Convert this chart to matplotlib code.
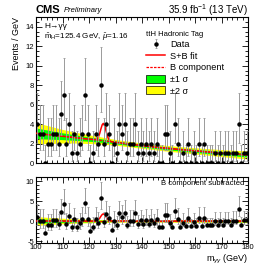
import numpy as np
import matplotlib
matplotlib.use("Agg")
import matplotlib.pyplot as plt
from matplotlib.patches import Patch
from matplotlib.lines import Line2D
from matplotlib.ticker import MultipleLocator

plt.rcParams['font.family'] = ['Liberation Sans', 'DejaVu Sans']
plt.rcParams['mathtext.fontset'] = 'custom'
plt.rcParams['mathtext.rm'] = 'Liberation Sans'
plt.rcParams['mathtext.it'] = 'Liberation Sans:italic'

# === Données ===
# comptages par bin de 1 GeV (100 -> 179)
bins_lo = list(range(100, 180))
counts = [4, 3, 3, 0, 2, 2, 3, 3, 2, 5,
          7, 2, 4, 1, 3, 1, 2, 3, 7, 3,
          0, 1, 3, 2, 8, 2, 4, 3, 0, 2,
          1, 4, 3, 4, 1, 2, 2, 4, 1, 2,
          1, 2, 1, 2, 1, 2, 0, 0, 3, 3,
          1, 0, 4, 2, 0, 1, 0, 2, 0, 1,
          0, 2, 0, 2, 0, 0, 0, 1, 0, 1,
          0, 1, 1, 0, 1, 1, 4, 0, 1, 1]
# données moins composante B (panneau du bas)
subtracted = [1.0, 0.0, 0.0, -2.9, -0.9, -0.9, 0.2, 0.2, -0.8, 2.2,
              4.3, -0.7, 1.3, -1.6, 0.4, -1.6, -0.6, 0.5, 4.5, 0.5,
              -2.4, -1.4, 0.6, -0.4, 5.7, -0.3, 1.8, 0.8, -2.2, -0.1,
              -1.1, 1.9, 1.0, 2.0, -1.0, 0.1, 0.1, 2.1, -0.8, 0.2,
              -0.8, 0.3, -0.7, 0.3, -0.6, 0.4, -1.6, -1.6, 1.5, 1.5,
              -0.5, -1.5, 2.6, 0.6, -1.4, -0.4, -1.3, 0.7, -1.3, -0.3,
              -1.2, 0.8, -1.2, 0.8, -1.1, -1.1, -1.1, -0.1, -1.1, 0.0,
              -1.0, 0.0, 0.0, -1.0, 0.1, 0.1, 3.1, -0.9, 0.2, 0.2]
# intervalles de Poisson (bas, haut) selon le comptage
poisson_err = {0: (0.0, 1.84), 1: (0.83, 2.30), 2: (1.29, 2.64), 3: (1.63, 2.92),
               4: (1.91, 3.16), 5: (2.16, 3.38), 7: (2.58, 3.77), 8: (2.77, 3.94)}

# composante B et bandes d'incertitude (grille de 5 GeV)
grid_x = [100, 105, 110, 115, 120, 125, 130, 135, 140, 145, 150, 155, 160, 165, 170, 175, 180]
bkg = [3.05, 2.9, 2.75, 2.6, 2.45, 2.3, 2.12, 1.95, 1.78, 1.63, 1.5, 1.37, 1.25, 1.13, 1.02, 0.92, 0.82]
err1 = [0.55, 0.45, 0.35, 0.28, 0.22, 0.18, 0.15, 0.14, 0.14, 0.14, 0.15, 0.15, 0.16, 0.17, 0.18, 0.2, 0.21]
err2 = [1.1, 0.9, 0.7, 0.55, 0.45, 0.36, 0.3, 0.28, 0.28, 0.28, 0.3, 0.3, 0.32, 0.34, 0.36, 0.39, 0.42]

# pic du signal (S+B = B + S)
peak_x = [121, 122, 122.5, 123, 123.5, 124, 124.5, 125, 125.4, 126, 126.5, 127, 127.5, 128, 128.5, 129]
peak_b = [2.43, 2.40, 2.38, 2.36, 2.35, 2.33, 2.32, 2.30, 2.29, 2.27, 2.25, 2.23, 2.21, 2.19, 2.17, 2.16]
peak_s = [0.0, 0.01, 0.03, 0.1, 0.29, 0.67, 1.19, 1.64, 1.78, 1.49, 0.97, 0.49, 0.2, 0.06, 0.015, 0.0]

# === Préparation ===
centers = np.array(bins_lo) + 0.5
y = np.array(counts, dtype=float)
lo = np.array([poisson_err[c][0] for c in counts])
hi = np.array([poisson_err[c][1] for c in counts])
gx = np.array(grid_x)
gb = np.array(bkg)
e1 = np.array(err1)
e2 = np.array(err2)
sb_x = grid_x[:5] + peak_x + grid_x[6:]
sb_y = bkg[:5] + [b + s for b, s in zip(peak_b, peak_s)] + bkg[6:]
sig_x = [100] + peak_x + [180]
sig_y = [0.0] + peak_s + [0.0]

GREEN = '#00ff00'
YELLOW = '#ffff00'
BARS = '#9a9a9a'

fig = plt.figure(figsize=(2.76, 2.65), dpi=100)
ax1 = fig.add_axes([36 / 276, 1 - 163 / 265, 212 / 276, 146 / 265])
ax2 = fig.add_axes([36 / 276, 1 - 243 / 265, 212 / 276, 66 / 265])

# === Panneau du haut ===
ax1.fill_between(gx, gb - e2, gb + e2, color=YELLOW, lw=0, zorder=1)
ax1.fill_between(gx, gb - e1, gb + e1, color=GREEN, lw=0, zorder=2)
ax1.plot(gx, gb, color='red', ls=(0, (2, 1)), lw=0.9, zorder=3)
ax1.plot(sb_x, sb_y, color='red', lw=1.1, zorder=4)
eb = ax1.errorbar(centers, y, yerr=[lo, hi], fmt='o', color='black', ms=2.2,
                  ecolor=BARS, elinewidth=0.7, capsize=0.8, capthick=0.6, zorder=5)

# === Panneau du bas ===
ax2.fill_between(gx, -e2, e2, color=YELLOW, lw=0, zorder=1)
ax2.fill_between(gx, -e1, e1, color=GREEN, lw=0, zorder=2)
ax2.axhline(0, color='red', ls=(0, (2, 1)), lw=0.9, zorder=3)
ax2.plot(sig_x, sig_y, color='red', lw=1.1, zorder=4)
ax2.errorbar(centers, subtracted, yerr=[lo, hi], fmt='o', color='black', ms=2.2,
             ecolor=BARS, elinewidth=0.7, capsize=0.8, capthick=0.6, zorder=5)

# === Axes ===
for ax in (ax1, ax2):
    ax.set_xlim(100, 180)
    ax.xaxis.set_major_locator(MultipleLocator(10))
    ax.xaxis.set_minor_locator(MultipleLocator(2))
    ax.tick_params(which='both', direction='in', top=True, right=True, labelsize=5.5, pad=1.5, width=0.6)
    ax.tick_params(which='major', length=4)
    ax.tick_params(which='minor', length=2)
    for s in ax.spines.values():
        s.set_linewidth(0.8)

ax1.set_ylim(0, 15)
ax1.yaxis.set_major_locator(MultipleLocator(2))
ax1.yaxis.set_minor_locator(MultipleLocator(0.5))
ax1.tick_params(labelbottom=False)

ax2.set_ylim(-5.5, 11)
ax2.yaxis.set_major_locator(MultipleLocator(5))
ax2.yaxis.set_minor_locator(MultipleLocator(1))
ax2.set_yticks([-5, 0, 5, 10])
ax2.set_yticklabels(['-5', '0', '5', '10'])
ax2.tick_params(axis='x', pad=0.8)

ax1.set_ylabel('Events / GeV', fontsize=6.5, loc='top', labelpad=3)
fig.text(248 / 276, 1 - 261 / 265, r'm$_{\gamma\gamma}$ (GeV)', fontsize=6.5, ha='right', va='baseline')

# === Textes ===
fig.text(36 / 276, 1 - 10 / 265, 'CMS', fontsize=8, fontweight='bold', va='center', ha='left')
fig.text(64 / 276, 1 - 10.5 / 265, 'Preliminary', fontsize=5.5, style='italic', va='center', ha='left')
fig.text(248 / 276, 1 - 10 / 265, r'35.9 fb$^{-1}$ (13 TeV)', fontsize=7, va='center', ha='right')
ax1.text(8 / 212, 1 - 9 / 146, 'H\u2192\u03b3\u03b3', transform=ax1.transAxes, fontsize=6, va='center')
ax1.text(8 / 212, 1 - 20 / 146, r'$\hat{\mathrm{m}}_{\mathrm{H}}$=125.4 GeV, $\hat{\mu}$=1.16',
         transform=ax1.transAxes, fontsize=5.8, va='center')
ax2.text(0.985, 0.9, 'B component subtracted', transform=ax2.transAxes, fontsize=5.5, ha='right', va='center')

handles = [eb, Line2D([], [], color='red', lw=1.1), Line2D([], [], color='red', ls=(0, (2, 1)), lw=0.9),
           Patch(facecolor=GREEN, edgecolor='black', lw=0.5), Patch(facecolor=YELLOW, edgecolor='black', lw=0.5)]
labels = ['Data', 'S+B fit', 'B component', '\u00b11 \u03c3', '\u00b12 \u03c3']
leg = ax1.legend(handles, labels, loc='upper left', bbox_to_anchor=(0.52, 0.905), frameon=False,
                 fontsize=6.6, title='ttH Hadronic Tag', title_fontsize=5.5, alignment='left',
                 handlelength=2.1, handleheight=1.0, labelspacing=0.25, handletextpad=0.5, borderaxespad=0,
                 borderpad=0)

fig.savefig('out.png', dpi=100)
